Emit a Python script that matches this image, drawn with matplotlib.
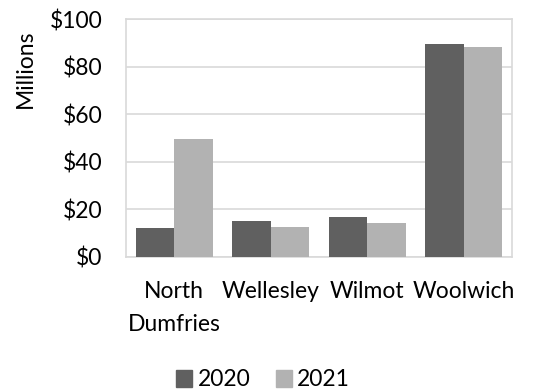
import numpy as np
import matplotlib
matplotlib.use("Agg")
import matplotlib.pyplot as plt
from matplotlib.patches import Patch

plt.rcParams['font.family'] = ['Lato', 'DejaVu Sans']

townships = ["North\nDumfries", "Wellesley", "Wilmot", "Woolwich"]
spend_2020 = [12.3, 15.0, 16.8, 89.5]
spend_2021 = [49.7, 12.6, 14.4, 88.4]
years = ["2020", "2021"]
y_ticks = [0, 20, 40, 60, 80, 100]

dark = "#606060"
light = "#b2b2b2"
grid_col = "#d9d9d9"
fs = 16.5

fig = plt.figure(figsize=(5.33, 3.92), dpi=100)
ax = fig.add_axes([126 / 533, 1 - 257 / 392, (512 - 126) / 533, (257 - 19) / 392])

x = np.arange(len(townships))
w = 0.4
ax.bar(x - w / 2, spend_2020, width=w, color=dark, zorder=3)
ax.bar(x + w / 2, spend_2021, width=w, color=light, zorder=3)

ax.set_xlim(-0.5, len(townships) - 0.5)
ax.set_ylim(0, 100)
ax.set_yticks(y_ticks)
ax.set_yticklabels(["${}".format(v) for v in y_ticks])
ax.set_xticks(x)
ax.set_xticklabels(townships, linespacing=1.75)
ax.yaxis.grid(True, color=grid_col, linewidth=1.2, zorder=0)
ax.tick_params(axis='both', length=0, labelsize=fs, colors='black')
ax.tick_params(axis='x', pad=17)
ax.tick_params(axis='y', pad=17)
for s in ax.spines.values():
    s.set_color(grid_col)
    s.set_linewidth(1.2)

fig.text(25 / 533, 1 - 69 / 392, "Millions", rotation=90, ha='center', va='center',
         fontsize=fs)

handles = [Patch(color=dark), Patch(color=light)]
fig.legend(handles, years, loc='center', bbox_to_anchor=(263 / 533, 1 - 380 / 392),
           ncol=2, frameon=False, fontsize=fs, handlelength=0.7, handleheight=0.7,
           handletextpad=0.25, columnspacing=1.1)

fig.savefig("out.png", dpi=100)
